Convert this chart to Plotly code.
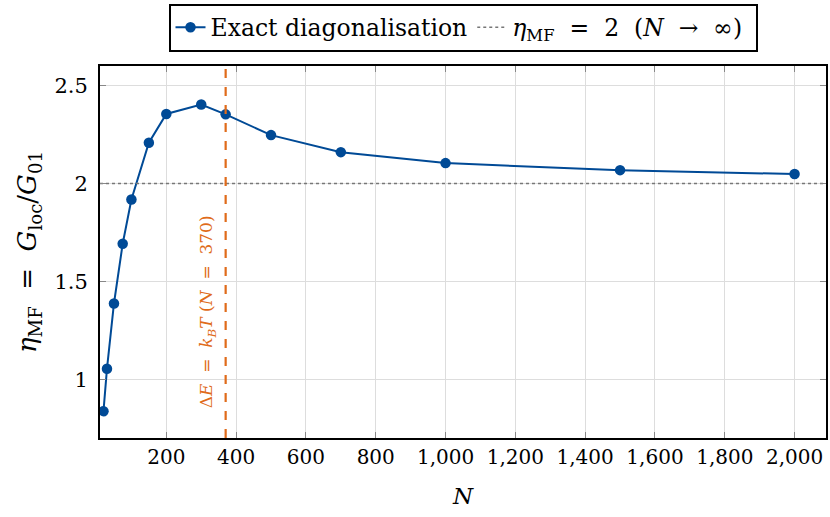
import plotly.graph_objects as go

# Data
N_values = [20, 30, 50, 75, 100, 150, 200, 300, 370, 500, 700, 1000, 1500, 2000]
eta_values = [0.837, 1.054, 1.387, 1.692, 1.918, 2.208, 2.355, 2.403, 2.353, 2.247, 2.160, 2.104, 2.068, 2.048]
eta_limit = 2.0
N_crossover = 370
x_range = [10, 2090]
y_range = [0.7, 2.6]
x_ticks = [200, 400, 600, 800, 1000, 1200, 1400, 1600, 1800, 2000]
y_ticks = [1, 1.5, 2, 2.5]
y_ticklabels = ["1", "1.5", "2", "2.5"]

BLUE = "#004a96"
ORANGE = "#e06b1a"
FONT = "DejaVu Serif"
SP = "&nbsp;"
SP2 = SP + SP

fig = go.Figure()
fig.add_trace(go.Scatter(
    x=N_values, y=eta_values, mode="lines+markers",
    name="Exact diagonalisation",
    line=dict(color=BLUE, width=2),
    marker=dict(color=BLUE, size=10.5),
))
fig.add_trace(go.Scatter(
    x=x_range, y=[eta_limit, eta_limit], mode="lines",
    name=f"<i>η</i><sub>MF</sub>{SP2}={SP2}2{SP2}(<i>N</i>{SP2}→{SP2}∞){SP}",
    line=dict(color="#777777", width=1.6, dash="dot"),
))

fig.add_shape(type="line", x0=N_crossover, x1=N_crossover, y0=0, y1=1,
              xref="x", yref="paper",
              line=dict(color=ORANGE, width=2.2, dash="dash"))
fig.add_annotation(x=N_crossover, y=1.343, xref="x", yref="y",
                   text=f"Δ<i>E</i>{SP2}={SP2}<i>k<sub>B</sub>T</i>{SP}(<i>N</i>{SP2}={SP2}370)",
                   textangle=-90, showarrow=False, xanchor="right", xshift=-5,
                   font=dict(family=FONT, size=17, color=ORANGE))

fig.update_layout(
    width=830, height=517,
    margin=dict(l=100, r=2, t=66, b=79),
    paper_bgcolor="white", plot_bgcolor="white",
    font=dict(family=FONT, size=20, color="black"),
    showlegend=True,
    legend=dict(orientation="h", x=0.5, xanchor="center", y=1.168, yanchor="top",
                bordercolor="black", borderwidth=2, bgcolor="white",
                font=dict(family=FONT, size=23.5), itemwidth=30,
                tracegroupgap=0),
    xaxis=dict(range=x_range, tickvals=x_ticks, tickformat=",d",
               showgrid=True, gridcolor="#dddddd", gridwidth=1,
               showline=True, linecolor="black", linewidth=2, mirror="ticks",
               ticks="inside", ticklen=6, tickcolor="#888888",
               zeroline=False,
               title=dict(text="<i>N</i>", font=dict(family=FONT, size=23), standoff=20),
               tickfont=dict(family=FONT, size=20)),
    yaxis=dict(range=y_range, tickvals=y_ticks, ticktext=y_ticklabels,
               showgrid=True, gridcolor="#dddddd", gridwidth=1,
               showline=True, linecolor="black", linewidth=2, mirror="ticks",
               ticks="inside", ticklen=6, tickcolor="#888888",
               zeroline=False, ticklabelstandoff=6,
               title=dict(text=f"<i>η</i><sub>MF</sub>{SP2}={SP2}<i>G</i><sub>loc</sub>/<i>G</i><sub>01</sub>",
                          font=dict(family=FONT, size=26), standoff=10),
               tickfont=dict(family=FONT, size=21)),
)

fig.write_html("out.html")
